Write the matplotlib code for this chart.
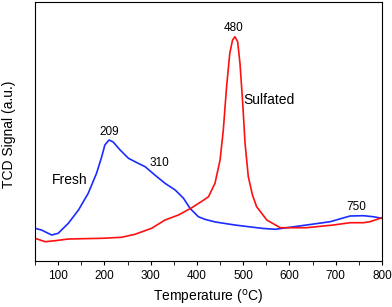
import numpy as np
import matplotlib.pyplot as plt
from matplotlib.ticker import MultipleLocator

plt.rcParams['font.family'] = ['Liberation Sans', 'DejaVu Sans']

# Fresh sample (temperature in C, signal in arbitrary units)
fresh_t = [50, 64, 86, 100, 122, 144, 165, 183, 194, 201, 210, 219, 234, 252,
           273, 288, 309, 331, 353, 371, 385, 403, 417, 440, 482, 540, 569,
           637, 688, 731, 760, 781, 800]
fresh_s = [32.7, 31, 26, 27.7, 37.7, 51, 67.7, 87.7, 104, 116, 121, 119, 111, 102.7,
           97.7, 94.3, 86, 77.7, 71, 62.7, 52.7, 44.3, 41.7, 39, 36, 32.7, 31.7,
           36, 39.3, 45, 45.3, 44.3, 42.7]

# Sulfated sample
sulf_t = [50, 72, 93, 122, 194, 237, 266, 302, 331, 360, 389, 417, 425, 439,
          450, 457, 464, 471, 477, 482, 488, 493, 499, 504, 511, 520, 529, 551,
          580, 637, 695, 731, 760, 774, 800]
sulf_s = [22.7, 19.3, 20.3, 22, 22.7, 23.7, 26.7, 32.7, 41, 46, 53.3, 61.7, 64.3, 77.7,
          101, 131, 174, 207.7, 221, 224.3, 219.3, 197.7, 157.7, 117.7, 84.3, 66, 54.3, 41,
          33.3, 33.3, 36, 38.3, 38.3, 39.3, 43.3]

peak_labels = ['209', '310', '480', '750']
peak_t = [210, 318, 479, 745]
peak_s = [129, 97.7, 232.7, 53.7]

fig = plt.figure(figsize=(3.92, 3.07), dpi=100)
ax = fig.add_axes([0.0893, 0.1498, 0.8852, 0.8437])

ax.plot(fresh_t, fresh_s, color='#1a2cff', lw=1.2)
ax.plot(sulf_t, sulf_s, color='#ff1010', lw=1.2)

for lab, t, s in zip(peak_labels, peak_t, peak_s):
    ax.text(t, s, lab, ha='center', va='center', fontsize=8.5)
ax.text(126, 81, 'Fresh', ha='center', va='center', fontsize=10)
ax.text(500, 161, 'Sulfated', ha='left', va='center', fontsize=10)

ax.set_xlim(50, 800)
ax.set_ylim(0, 259)
ax.xaxis.set_major_locator(MultipleLocator(100))
ax.xaxis.set_minor_locator(MultipleLocator(50))
ax.tick_params(axis='x', which='both', direction='out', length=3, labelsize=8.5)
ax.set_yticks([])
ax.set_xlabel('Temperature ($^{\\rm o}$C)', fontsize=10)
ax.set_ylabel('TCD Signal (a.u.)', fontsize=10)
ax.yaxis.set_label_coords(-0.055, 0.49)

fig.savefig('out.png', dpi=100)
